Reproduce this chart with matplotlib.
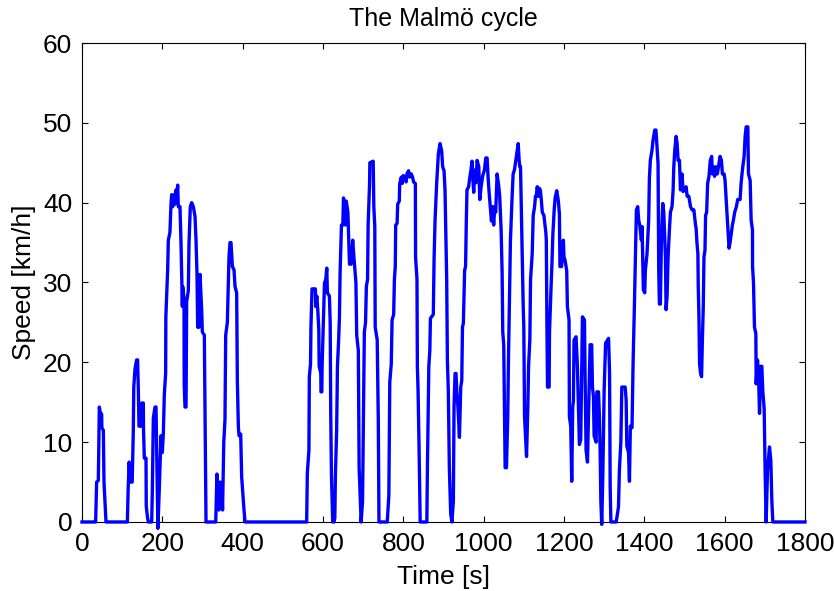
import numpy as np
import matplotlib
matplotlib.use("Agg")
import matplotlib.pyplot as plt

# Malmö drive cycle, speed
time_s = [0, 34, 36.5, 40.7, 41.5, 43.2, 45, 49, 49.5, 53.2, 54.8, 59.8,
          113, 115, 117.5, 119.6, 125, 127.8, 129, 132, 136, 138.5, 140.3, 141.9,
          146.9, 148.6, 152.7, 153.2, 155.2, 159.4, 160, 163, 165.2,
          173.5, 175.2, 177.6, 181.8, 184.3, 189, 192.6, 196.7, 200, 202.5, 205,
          208.3, 208.8, 213.3, 215, 219, 221.6, 223.3, 225.8, 229, 231.6, 234,
          236.5, 238.2, 239.9, 244, 246.5, 249.9, 250.7, 254, 254.5, 256.5, 259,
          259.5, 260.6, 264.8, 266.4, 269.7, 273, 277.2, 281.4, 283.9, 286.4, 288,
          289.7, 291.3, 293.8, 298, 299.6, 304.6, 308.8,
          333, 336, 341, 344, 348, 350, 353, 356, 357.8, 361.9, 364.4, 366, 368.5,
          371, 372.7, 374.4, 378.5, 381, 385.1, 386.8, 389.3, 391, 395.1, 397.6,
          403.4, 405.9,
          559.4, 561, 565, 566, 569, 570, 572.7, 581, 582, 584.6, 587, 589.6, 590.5,
          594.6, 595, 597, 598, 601.2, 603.7, 607, 609.4, 611, 616, 618, 619.3, 621,
          624.2, 627.5, 629.5, 631, 634, 636, 639, 641, 642.6, 646, 649.4, 651,
          654.5, 656, 658, 662, 663.6, 666, 670, 674, 677, 682, 684, 688, 690, 695,
          698.5, 701, 703, 706, 708, 711, 712.4, 716, 716.7, 725, 726.6, 729, 730,
          735, 737.7, 739.4,
          760, 764, 766.3, 770, 772, 776, 777.8, 780, 781, 784.5, 786, 790, 791, 795,
          797, 800, 803, 807, 809, 813, 815.7, 819.8, 823, 825.5, 830, 830.5, 834,
          835, 836.7, 839, 842,
          858.6, 860, 862.7, 863.5, 866, 867.5, 874.7, 876.5, 879, 883, 887.2, 891.4,
          895.5, 898, 901.4, 903.8, 908, 909.7, 912, 914.6, 918, 921,
          924.6, 926.3, 928.8, 931.3, 933, 936, 939.7, 943, 945.5, 947.3, 949.5,
          952.6, 955, 956.9, 958.5, 962.7, 965, 968.5, 971, 973.7, 975.3, 977.8,
          981, 983.7, 987.9, 990.4, 993.7, 997.8, 1002, 1005.3, 1008.6, 1011,
          1013.6, 1016.9, 1019.4, 1022, 1025, 1027.7, 1030, 1033.5, 1037.7, 1040,
          1043.5, 1046, 1047.6, 1050, 1051.8, 1053.5, 1056.8, 1060, 1061.8, 1065,
          1066.7, 1070.9, 1073.4, 1076.7, 1080, 1083.4, 1086, 1088.4, 1090, 1091.8,
          1094.3, 1098.5, 1100, 1101.8, 1106.8, 1110, 1111.8, 1115, 1116.8, 1120.9,
          1123.4, 1126.8, 1129, 1131, 1133.5, 1136, 1138.5, 1141, 1143.5, 1146,
          1150, 1154.8, 1156, 1157.5, 1159, 1163, 1164, 1167.3, 1169.8, 1172.3,
          1175.5, 1178, 1182, 1186, 1188.6, 1190, 1194, 1198.5, 1200, 1202.6,
          1206.8, 1208.5, 1212.6, 1213.5, 1216.8, 1219.3, 1221.8, 1223.5, 1225,
          1230, 1233.4, 1238.4, 1241.7, 1244, 1246, 1251, 1252.7, 1255, 1258.5,
          1261, 1263.5, 1265, 1269, 1270.9, 1273.4, 1275, 1280, 1281.8, 1286,
          1288.4, 1290, 1291.8, 1294, 1296.8, 1300, 1303.6, 1311, 1313.5, 1315,
          1316.8,
          1330, 1335.7, 1338, 1341.6, 1344, 1352.3, 1354.8, 1356.5, 1360.7, 1363,
          1365.3, 1369.4, 1372, 1375.3, 1377.8, 1380.3, 1383.6, 1386, 1388.6,
          1392.7, 1394.5, 1396, 1397.6, 1401, 1402.6, 1406.7, 1410.9, 1412.6, 1415,
          1419.2, 1421.7, 1425.9, 1429, 1431.7, 1434.2, 1435.9, 1437.6, 1440,
          1442.6, 1445.9, 1448.4, 1452.6, 1454.2, 1456.7, 1459.2, 1462.5, 1465,
          1469, 1471.7, 1473.4, 1475.9, 1479.2, 1481.7, 1484.1, 1487.5, 1490, 1494,
          1496.6, 1500.8, 1504, 1506.6, 1510.8, 1515, 1519, 1523.4, 1527.5, 1529,
          1531, 1533.4, 1534.3, 1536, 1537.6, 1540, 1542.6, 1544.3, 1546.8, 1548.5,
          1551, 1552.6, 1555.2, 1557.6, 1561, 1564.3, 1567.7, 1569.4, 1571.9, 1575,
          1577.7, 1581.9, 1586, 1588.6, 1592, 1594.4, 1598.6, 1601, 1602.7, 1605.2,
          1608.6, 1611, 1613.5, 1616.8, 1619.3, 1621.8, 1625, 1629.3, 1632.6,
          1638.5, 1640.9, 1642.6, 1645.2, 1648.5, 1651, 1653.5, 1657.7, 1659.3,
          1663.5, 1666, 1669.3, 1669.5, 1671.8, 1674.3, 1677.7, 1678.5, 1681.8,
          1684.3, 1686.8, 1690, 1692.6, 1695.1, 1698.4, 1700.9, 1703.4, 1706.7,
          1711.7, 1715, 1717.5, 1720, 1800]

speed_kmh = [0, 0, 5, 5.2, 8, 14.4, 13.8, 13.5, 11.8, 11.5, 5, 0,
             0, 4.2, 7.5, 5, 5, 11.5, 16.9, 19.2, 20.3, 20.3, 16.5, 12,
             12, 14.9, 14.9, 11.6, 8, 8, 2, 0.6, 0,
             0, 4, 13, 14.4, 14.4, -0.8, 4.3, 10.8, 8.7, 11, 16,
             18.6, 25.7, 31.6, 35.3, 36.3, 39.8, 41, 39.5, 41, 39.8, 41.6,
             40.8, 42.2, 39.5, 39.5, 35, 27, 29.5, 28, 17.3, 14.4, 14.4,
             17.7, 27.6, 29, 34.8, 39.5, 40, 39.5, 38.3, 35.3, 31, 24.4,
             31, 24.4, 31, 26.6, 23.8, 23.4, 0,
             0, 6, 1.5, 5, 4.5, 1.5, 10, 12.8, 23.4, 25, 30, 33.2, 35,
             35, 33.6, 32, 31.6, 29.5, 28.7, 17.7, 12, 10.8, 11, 5.6,
             1.5, 0,
             0, 6.1, 9, 18.2, 19.8, 24.4, 29.2, 29.2, 27, 28.3, 26.6, 24.1, 19.5,
             18.6, 16.3, 16.3, 19.8, 25.7, 29.9, 30.4, 31.8, 28.7, 28.3, 24.9, 13.6, 6,
             0, 0, 0.5, 6, 11.4, 19.5, 22.8, 25.7, 31.2, 37.2, 37.2, 40.6,
             39.5, 37.2, 40.2, 38.8, 36.3, 32.3, 32.3, 35.3, 33.2, 30, 23.4, 21.5, 6.8, 0,
             2.6, 14.9, 23.8, 25, 29.5, 30.4, 37.2, 42.4, 45, 45.2, 39.5, 37, 24.4,
             22.8, 12.8, 0,
             0, 3.3, 17.5, 19.8, 25.3, 26, 30.4, 32, 37.2, 37.4, 39.8, 40.2, 42.4, 43.2,
             42.4, 43.4, 43.2, 42.6, 43.6, 44, 43.2, 43.6, 43.2, 42.6, 42.4, 33.2, 30.4,
             19.5, 16.5, 10, 0,
             0, 6.8, 16.5, 19.5, 21.5, 25.5, 26, 32.7, 37.8, 42.4, 46.1, 47.4,
             46.5, 44.5, 44, 41.6, 30.4, 20.3, 16.5, 6.8, 1, 0,
             2.6, 14.4, 18.6, 18.6, 16.5, 14.4, 10.6, 16.9, 17.7, 24.4, 24.9,
             31.5, 32, 37.8, 41.6, 42, 43, 44.1, 45.2, 42.5, 41.3, 44.1,
             42.5, 45.3, 44.5, 40.4, 42, 43.4, 44.1, 45.6, 45.6, 43.2,
             41.3, 39.2, 37.7, 39.5, 37.2, 39.5, 38.8, 43.6, 42, 40.8,
             36.6, 31.2, 23.8, 22.2, 14.4, 6.8, 6.8, 13.2, 20.3, 30.4,
             35.3, 40.8, 43.6, 44.1, 45.3, 46.6, 47.4, 45.3, 44.5, 44.5,
             37.8, 27, 24.4, 13.2, 8.2, 14.4, 19.5, 22.8, 30.4, 33.6,
             38.4, 39.5, 40.8, 40.8, 42, 40.8, 41.8, 41.6, 40.4, 38.8,
             38.4, 36.3, 35.3, 24.9, 16.9, 16.9, 23.8, 28.7, 32, 36,
             39, 40.6, 41.5, 40.2, 38.6, 32, 32, 35.3, 33.2, 32.8,
             31.5, 27, 25.3, 13.2, 12, 5.1, 14.4, 15.2, 22.8,
             23.2, 19.5, 9.7, 10.3, 18.6, 25.7, 25.3, 17.7, 9, 7.5,
             13.2, 19, 22.2, 22.2, 16.9, 15.7, 10.8, 10, 16.3, 16.3,
             12.8, 9, 2.6, -0.3, 6.1, 16.5, 22.4, 23, 18.6, 4.4,
             0,
             0, 1.9, 6.5, 10, 16.9, 16.9, 15.3, 9.5, 8.7, 5.1,
             12, 11.8, 19.8, 27, 33.2, 39.1, 39.5, 37.8, 37.2,
             35.3, 37, 33, 29.1, 28.7, 31.5, 33.6, 37.8, 43, 45.3,
             46.6, 47.8, 49.1, 49.1, 47, 44.9, 31.5, 27.3, 27.3,
             35.3, 39.9, 38.8, 33.2, 26.6, 28.3, 33.2, 36.6, 38.8,
             39.5, 41.6, 44.5, 46.6, 48.3, 47.4, 45.3, 45.3, 41.6, 43.6,
             41.4, 41.6, 42, 40.8, 40.8, 39.5, 39.1, 39.1, 37.2, 36.8,
             35, 33.6, 29.5, 25.7, 19.8, 18.6, 18.2, 22.2, 27, 33.2,
             34, 38.4, 38.8, 42.4, 43.3, 45.3, 45.8, 43.6, 44.5, 43.3,
             44.5, 43.6, 44.9, 45.8, 45.3, 43.6, 43.6, 42.8, 41.3, 39.1,
             36.3, 34.3, 35, 36.3, 37.2, 37.8, 38.8, 39.5, 40.4,
             40.4, 42.4, 43.3, 44.5, 45.8, 48.3, 49.5, 49.5, 43.6,
             42.8, 37.8, 36.6, 32, 30, 24.4, 23.6, 17.3, 20.3,
             18.6, 13.6, 19.5, 19.5, 16.3, 14.2, 6, 0, 6.5,
             9.4, 7.7, 2.6, 0, 0]

x_ticks = list(range(0, 1801, 200))
y_ticks = list(range(0, 61, 10))

plt.rcParams['font.family'] = ['Liberation Sans', 'DejaVu Sans']

fig = plt.figure(figsize=(8.34, 5.91), dpi=100)
ax = fig.add_axes([0.0983, 0.1168, 0.8669, 0.8104])

ax.plot(time_s, speed_kmh, color='#0000ff', linewidth=2.4, clip_on=False, zorder=3)

ax.set_xlim(0, 1800)
ax.set_ylim(0, 60)
ax.set_xticks(x_ticks)
ax.set_yticks(y_ticks)
ax.tick_params(direction='in', top=True, right=True, length=4, width=0.8,
               labelsize=19, pad=7)
for s in ax.spines.values():
    s.set_linewidth(0.8)

ax.set_title('The Malmö cycle', fontsize=18, pad=12)
ax.set_xlabel('Time [s]', fontsize=19, labelpad=7)
ax.set_ylabel('Speed [km/h]', fontsize=19, labelpad=5)

fig.savefig('out.png', dpi=100)
